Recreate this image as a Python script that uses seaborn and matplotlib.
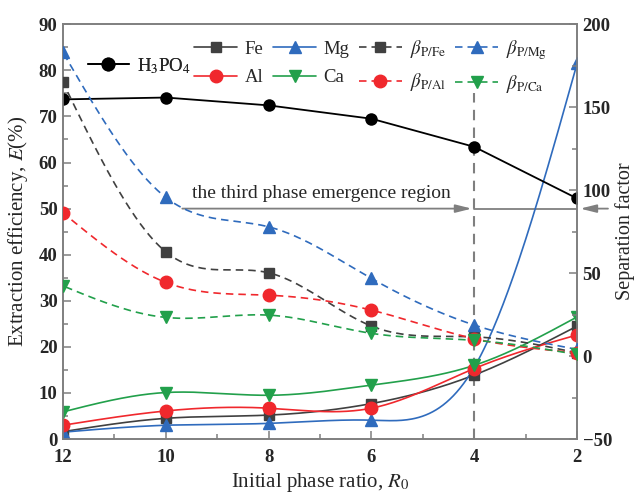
import numpy as np
import pandas as pd
import matplotlib
matplotlib.use("Agg")
import matplotlib.pyplot as plt
from matplotlib.lines import Line2D
import seaborn as sns

# Initial phase ratio R0
ratio = [12, 10, 8, 6, 4, 2]

# Extraction efficiency E (%)
e_h3po4 = [73.7, 74.1, 72.4, 69.5, 63.4, 52.2]
e_fe = [1.6, 4.5, 5.2, 7.7, 13.9, 24.5]
e_mg = [1.5, 3.0, 3.4, 4.1, 15.6, 81.5]
e_al = [3.0, 6.1, 6.7, 6.7, 15.3, 22.6]
e_ca = [5.9, 10.1, 9.5, 11.7, 16.0, 26.5]

# Separation factors
beta_fe = [164.9, 62.8, 50.2, 18.1, 11.6, 2.0]
beta_mg = [183.0, 95.6, 77.9, 46.8, 18.7, 4.0]
beta_al = [86.3, 44.4, 36.7, 27.7, 10.5, 2.0]
beta_ca = [42.3, 23.3, 24.7, 13.7, 9.5, 1.0]

sns.set_theme(style="ticks")
plt.rcParams["font.family"] = ["Liberation Serif", "DejaVu Serif"]
plt.rcParams["mathtext.fontset"] = "stix"

GRAY = "#7f7f7f"
C_FE = "#404040"
C_MG = "#2f6bbd"
C_AL = "#f0282d"
C_CA = "#22a04b"
DASH = (0, (4.5, 3))


def spline_curve(x, y, n=300):
    """Natural cubic spline through the points, for a smooth connecting line."""
    x = np.asarray(x, float)
    y = np.asarray(y, float)
    order = np.argsort(x)
    x, y = x[order], y[order]
    m = len(x)
    h = np.diff(x)
    A = np.zeros((m, m))
    b = np.zeros(m)
    A[0, 0] = A[-1, -1] = 1.0
    for i in range(1, m - 1):
        A[i, i - 1] = h[i - 1]
        A[i, i] = 2 * (h[i - 1] + h[i])
        A[i, i + 1] = h[i]
        b[i] = 3 * ((y[i + 1] - y[i]) / h[i] - (y[i] - y[i - 1]) / h[i - 1])
    c = np.linalg.solve(A, b)
    bb = (y[1:] - y[:-1]) / h - h * (2 * c[:-1] + c[1:]) / 3
    d = (c[1:] - c[:-1]) / (3 * h)
    xs = np.linspace(x[0], x[-1], n)
    idx = np.clip(np.searchsorted(x, xs) - 1, 0, m - 2)
    t = xs - x[idx]
    ys = y[idx] + bb[idx] * t + c[idx] * t ** 2 + d[idx] * t ** 3
    return xs, ys


fig = plt.figure(figsize=(6.37, 4.95), dpi=100)
ax = fig.add_axes([0.099, 0.113, 0.807, 0.838])
ax2 = ax.twinx()

# Extraction efficiency (left axis), smooth solid curves
solid = [(e_fe, C_FE, "s", 7), (e_mg, C_MG, "^", 8.5),
         (e_al, C_AL, "o", 9), (e_ca, C_CA, "v", 8.5)]
for vals, col, mk, ms in solid:
    xs, ys = spline_curve(ratio, vals)
    sns.lineplot(x=xs, y=ys, ax=ax, color=col, lw=1.2, sort=False, zorder=3)
    ax.plot(ratio, vals, ls="none", marker=mk, ms=ms, color=col, zorder=4)

# Phosphoric acid, straight segments
df_p = pd.DataFrame({"R0": ratio, "E": e_h3po4})
sns.lineplot(data=df_p, x="R0", y="E", ax=ax, color="black", lw=1.3,
             marker="o", markersize=9, markeredgewidth=0, zorder=5)

# Separation factors (right axis), smooth dashed curves
dashed = [(beta_fe, C_FE, "s", 7), (beta_mg, C_MG, "^", 8.5),
          (beta_al, C_AL, "o", 9), (beta_ca, C_CA, "v", 8.5)]
for vals, col, mk, ms in dashed:
    xs, ys = spline_curve(ratio, vals)
    ax2.plot(xs, ys, color=col, lw=1.2, ls=DASH, zorder=3)
    ax2.plot(ratio, vals, ls="none", marker=mk, ms=ms, color=col, zorder=4)

# Axes limits and ticks
ax.set_xlim(12, 2)
ax.set_ylim(0, 90)
ax2.set_ylim(-50, 200)
ax.set_xticks(ratio)
ax.set_xticks([11, 9, 7, 5, 3], minor=True)
ax.set_yticks(np.arange(0, 91, 10))
ax.set_yticks(np.arange(5, 90, 10), minor=True)
ax2.set_yticks(np.arange(-50, 201, 50))
ax2.set_yticks(np.arange(-25, 200, 50), minor=True)

for a in (ax, ax2):
    for sp in a.spines.values():
        sp.set_color(GRAY)
        sp.set_linewidth(1.2)
    a.tick_params(which="both", direction="in", color=GRAY, width=1.1)
    a.tick_params(which="major", length=6)
    a.tick_params(which="minor", length=3.5)
    a.grid(False)
ax.tick_params(axis="y", labelsize=13.5, pad=4)
ax.tick_params(axis="x", labelsize=13.5, pad=7)
ax2.tick_params(axis="y", labelsize=13.5, pad=4)
for lab in ax.get_xticklabels() + ax.get_yticklabels() + ax2.get_yticklabels():
    lab.set_fontweight("bold")

ax.set_xlabel(r"Initial phase ratio, $R_0$", fontsize=15, labelpad=4)
ax.set_ylabel(r"Extraction efficiency, $E$(%)", fontsize=15, labelpad=6)
ax2.set_ylabel("Separation factor", fontsize=14.5, labelpad=2)

# Third-phase region marker
ax.plot([4, 4], [0, 75], color=GRAY, lw=1.5, ls=(0, (5, 3.5)), zorder=2)
ax.annotate("", xy=(4.05, 50), xytext=(9.68, 50),
            arrowprops=dict(arrowstyle="-|>,head_length=0.8,head_width=0.2",
                            color=GRAY, lw=1.3, shrinkA=0, shrinkB=0))
ax.plot([4, 2], [50, 50], color=GRAY, lw=1.3, zorder=2)
ax.annotate("", xy=(1.94, 50), xytext=(1.4, 50), annotation_clip=False,
            arrowprops=dict(arrowstyle="-|>,head_length=0.8,head_width=0.2",
                            color=GRAY, lw=1.3, shrinkA=0, shrinkB=0))
ax.text(6.98, 53.3, "the third phase emergence region", fontsize=14,
        ha="center", va="center")

# Legends
h_p = [Line2D([], [], color="black", marker="o", ms=9, lw=1.3)]
leg1 = ax.legend(h_p, [r"H$_3$PO$_4$"], loc="center left",
                 bbox_to_anchor=(0.03, 0.9), frameon=False, fontsize=13.5,
                 handlelength=2.2, handletextpad=0.4, borderpad=0)
ax.add_artist(leg1)

hs = [
    Line2D([], [], color=C_FE, marker="s", ms=7, lw=1.2),
    Line2D([], [], color=C_AL, marker="o", ms=9, lw=1.2),
    Line2D([], [], color=C_MG, marker="^", ms=8.5, lw=1.2),
    Line2D([], [], color=C_CA, marker="v", ms=8.5, lw=1.2),
    Line2D([], [], color=C_FE, marker="s", ms=7, lw=1.2, ls=DASH),
    Line2D([], [], color=C_AL, marker="o", ms=9, lw=1.2, ls=DASH),
    Line2D([], [], color=C_MG, marker="^", ms=8.5, lw=1.2, ls=DASH),
    Line2D([], [], color=C_CA, marker="v", ms=8.5, lw=1.2, ls=DASH),
]
labels = ["Fe", "Al", "Mg", "Ca",
          r"$\beta_{\mathrm{P/Fe}}$", r"$\beta_{\mathrm{P/Al}}$",
          r"$\beta_{\mathrm{P/Mg}}$", r"$\beta_{\mathrm{P/Ca}}$"]
ax2.legend(hs, labels, ncol=4, loc="upper left", bbox_to_anchor=(0.237, 0.99),
           frameon=False, fontsize=13.5, handlelength=2.3, handletextpad=0.4,
           columnspacing=0.5, labelspacing=0.6, borderpad=0)

fig.savefig("out.png", dpi=100)
